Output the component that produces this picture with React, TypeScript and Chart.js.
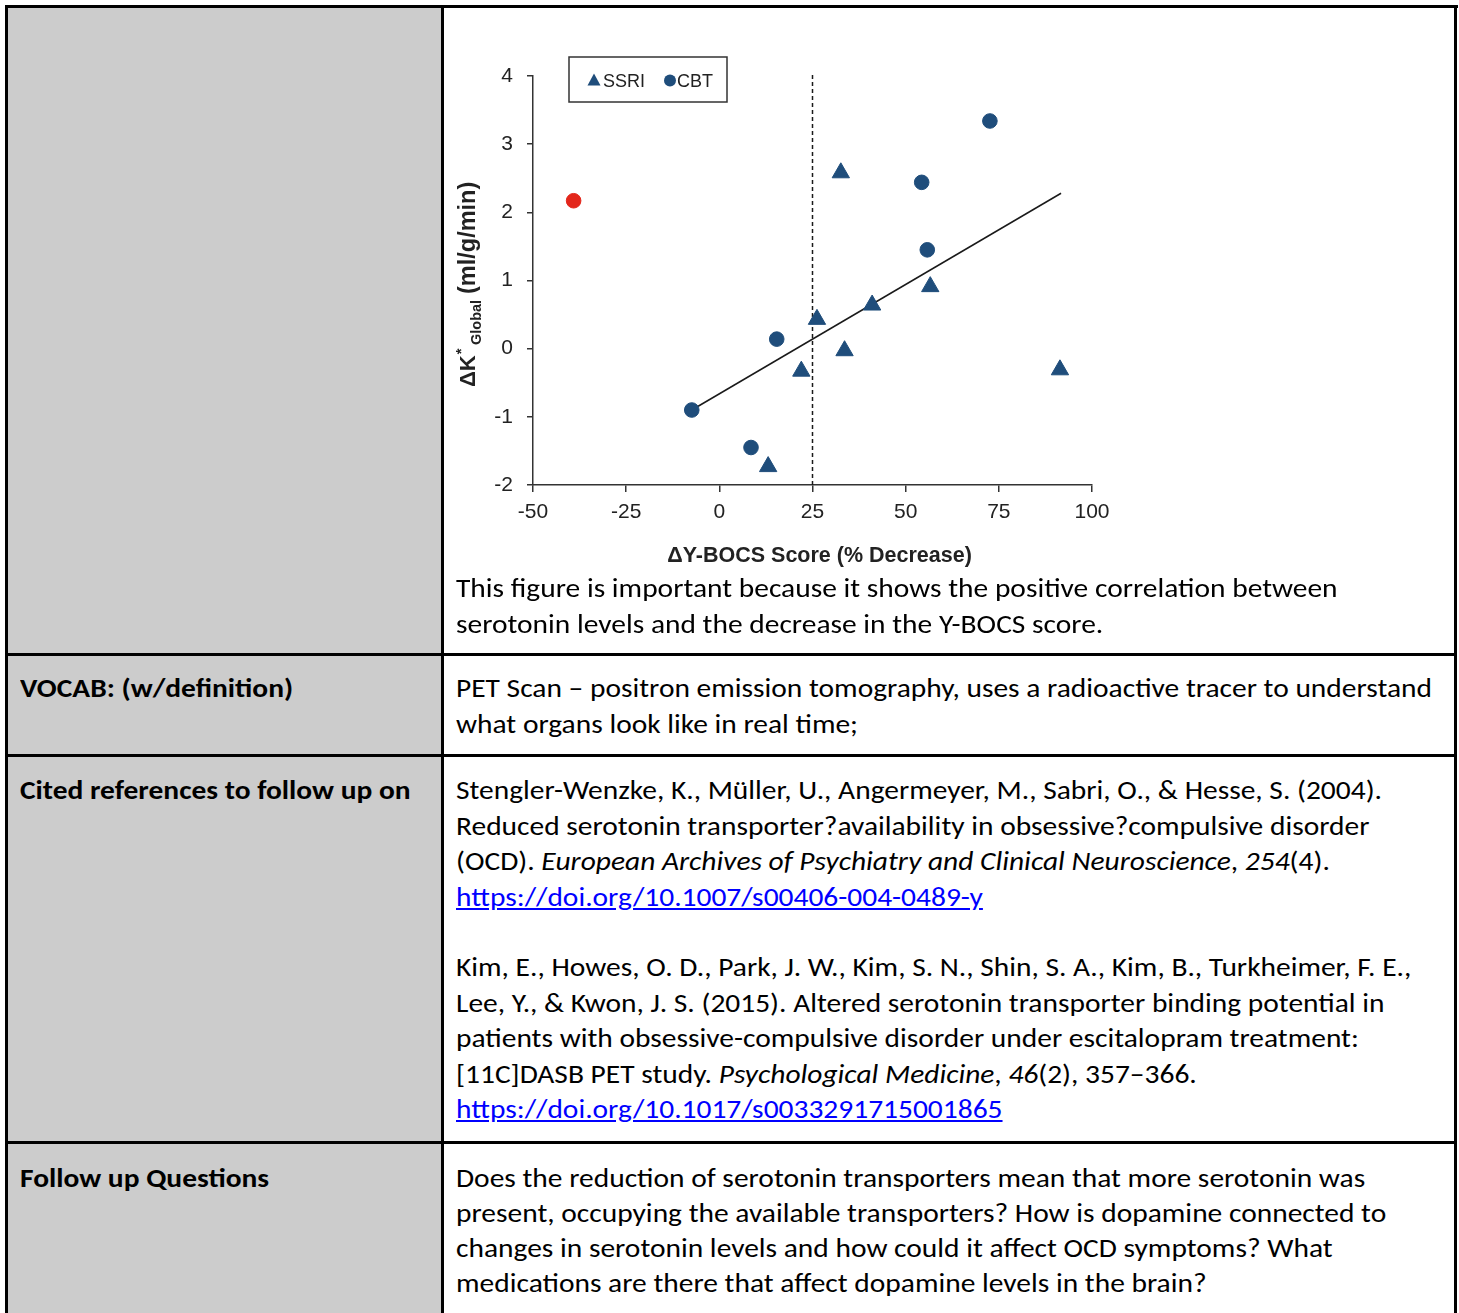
import React, { useEffect, useRef } from "react";
import { Chart, registerables } from "chart.js";

Chart.register(...registerables);

// ---------- chart data ----------
const ssriX = [32.6, 26.2, 33.6, 41.0, 56.6, 22.0, 13.1, 91.4];
const ssriY = [2.58, 0.43, -0.03, 0.64, 0.91, -0.33, -1.73, -0.31];
const cbtX = [-7.4, 8.5, 15.4, 54.3, 55.8, 72.6];
const cbtY = [-0.9, -1.45, 0.14, 2.44, 1.45, 3.34];
const outlierX = [-39.1];
const outlierY = [2.17];
const fitX = [-7.4, 91.7];
const fitY = [-0.9, 2.28];
const cutoffX = [25, 25];
const cutoffY = [-2, 4.06];
const xTicks = [-50, -25, 0, 25, 50, 75, 100];
const yTicks = [-2, -1, 0, 1, 2, 3, 4];
const seriesLabels = ["SSRI", "CBT"];
const xTitle = "ΔY-BOCS Score (% Decrease)";
const yTitleMain = "ΔK";
const yTitleSup = "*";
const yTitleSub = "Global";
const yTitleUnit = "(ml/g/min)";

// ---------- table text ----------
const chartCaption = [
  "This figure is important because it shows the positive correlation between",
  "serotonin levels and the decrease in the Y-BOCS score.",
];
const vocabLines = [
  "PET Scan – positron emission tomography, uses a radioactive tracer to understand",
  "what organs look like in real time;",
];
const followLines = [
  "Does the reduction of serotonin transporters mean that more serotonin was",
  "present, occupying the available transporters? How is dopamine connected to",
  "changes in serotonin levels and how could it affect OCD symptoms? What",
  "medications are there that affect dopamine levels in the brain?",
];
const rowLabels = ["VOCAB: (w/definition)", "Cited references to follow up on", "Follow up Questions"];

const BLUE = "#1f4d7b";
const RED = "#e3261b";
const INK = "#222222";
const AXIS_FONT = "'Liberation Sans', Arial, sans-serif";

const toPts = (xs: number[], ys: number[]) => xs.map((x, i) => ({ x, y: ys[i] }));

function ScatterChart() {
  const ref = useRef<HTMLCanvasElement | null>(null);
  useEffect(() => {
    if (!ref.current) return;
    const annot = {
      id: "annot",
      afterDraw(chart: any) {
        const ctx = chart.ctx as CanvasRenderingContext2D;
        const ca = chart.chartArea;
        ctx.save();
        // x title
        ctx.fillStyle = INK;
        ctx.font = `bold 21.5px ${AXIS_FONT}`;
        ctx.textAlign = "center";
        ctx.textBaseline = "alphabetic";
        ctx.fillText(xTitle, (ca.left + ca.right) / 2 + 7, 554);
        // y title (rotated)
        ctx.save();
        ctx.translate(31, 379);
        ctx.rotate(-Math.PI / 2);
        ctx.textAlign = "left";
        ctx.font = `bold 22px ${AXIS_FONT}`;
        ctx.fillText(yTitleMain, 0, 0);
        const w1 = ctx.measureText(yTitleMain).width;
        ctx.font = `bold 15px ${AXIS_FONT}`;
        ctx.fillText(yTitleSup, w1 + 1, -9);
        ctx.font = `bold 14.5px ${AXIS_FONT}`;
        ctx.fillText(yTitleSub, 42, 6);
        ctx.font = `bold 23.5px ${AXIS_FONT}`;
        ctx.fillText(yTitleUnit, 93, 0);
        ctx.restore();
        // legend box
        const bx = 125, by = 49, bw = 158, bh = 45;
        ctx.strokeStyle = "#333";
        ctx.lineWidth = 1.5;
        ctx.strokeRect(bx, by, bw, bh);
        const cy = by + bh / 2;
        ctx.fillStyle = BLUE;
        ctx.beginPath();
        ctx.moveTo(150, cy - 6);
        ctx.lineTo(156.5, cy + 6);
        ctx.lineTo(143.5, cy + 6);
        ctx.closePath();
        ctx.fill();
        ctx.beginPath();
        ctx.arc(226, cy + 1, 6, 0, Math.PI * 2);
        ctx.fill();
        ctx.fillStyle = INK;
        ctx.font = `18px ${AXIS_FONT}`;
        ctx.textAlign = "left";
        ctx.textBaseline = "middle";
        ctx.fillText(seriesLabels[0], 159, cy + 2.5);
        ctx.fillText(seriesLabels[1], 233, cy + 2.5);
        ctx.restore();
      },
    };
    const axisCommon = {
      type: "linear" as const,
      border: { display: true, color: "#333", width: 1.5 },
      grid: { display: true, drawOnChartArea: false, drawTicks: true, tickLength: 7, color: "#333", lineWidth: 1.5 },
    };
    const chart = new Chart(ref.current, {
      type: "scatter",
      data: {
        datasets: [
          {
            label: seriesLabels[0],
            data: toPts(ssriX, ssriY),
            pointStyle: "triangle",
            pointRadius: 10,
            backgroundColor: BLUE,
            borderColor: BLUE,
            borderWidth: 1,
          },
          {
            label: seriesLabels[1],
            data: toPts(cbtX, cbtY),
            pointStyle: "circle",
            pointRadius: 7.3,
            backgroundColor: BLUE,
            borderColor: BLUE,
            borderWidth: 1,
          },
          {
            label: "outlier",
            data: toPts(outlierX, outlierY),
            pointStyle: "circle",
            pointRadius: 7.3,
            backgroundColor: RED,
            borderColor: RED,
            borderWidth: 1,
          },
          {
            type: "line",
            label: "fit",
            data: toPts(fitX, fitY),
            borderColor: "#1a1a1a",
            borderWidth: 1.5,
            pointRadius: 0,
            showLine: true,
            fill: false,
            order: 5,
          } as any,
          {
            type: "line",
            label: "cutoff",
            data: toPts(cutoffX, cutoffY),
            borderColor: "#1a1a1a",
            borderWidth: 1.5,
            borderDash: [4, 3],
            pointRadius: 0,
            showLine: true,
            fill: false,
            clip: false,
            order: 6,
          } as any,
        ],
      },
      options: {
        animation: false,
        responsive: false,
        maintainAspectRatio: false,
        layout: { padding: { top: 68, right: 52, left: 0, bottom: 0 } },
        plugins: { legend: { display: false }, tooltip: { enabled: false }, title: { display: false } },
        scales: {
          x: {
            ...axisCommon,
            min: -50,
            max: 100,
            afterBuildTicks: (s: any) => {
              s.ticks = xTicks.map((v) => ({ value: v }));
            },
            afterFit: (s: any) => {
              s.height = 93;
            },
            ticks: { color: INK, font: { family: AXIS_FONT, size: 21 }, padding: 8 },
          },
          y: {
            ...axisCommon,
            min: -2,
            max: 4,
            grid: { ...axisCommon.grid, tickLength: 6 },
            afterBuildTicks: (s: any) => {
              s.ticks = yTicks.map((v) => ({ value: v }));
            },
            afterFit: (s: any) => {
              s.width = 89;
            },
            ticks: { color: INK, font: { family: AXIS_FONT, size: 21 }, padding: 14 },
          },
        },
      },
      plugins: [annot],
    });
    return () => chart.destroy();
  }, []);
  return (
    <canvas
      ref={ref}
      width={700}
      height={570}
      style={{ position: "absolute", left: 444, top: 8, width: 700, height: 570, display: "block" }}
    />
  );
}

const TEXT_FONT = "Carlito, Lato, 'Open Sans', sans-serif";
const TEXT_SIZE = 26;
const TEXT_STRETCH = 1.133;

function Line(props: { x: number; base: number; bold?: boolean; children: React.ReactNode }) {
  return (
    <div
      style={{
        position: "absolute",
        left: props.x,
        top: props.base - 27,
        height: 36,
        lineHeight: "36px",
        fontSize: TEXT_SIZE,
        fontFamily: TEXT_FONT,
        fontWeight: props.bold ? 700 : 400,
        whiteSpace: "nowrap",
        color: "#000",
        transform: `scaleX(${TEXT_STRETCH})`,
        transformOrigin: "0 50%",
      }}
    >
      {props.children}
    </div>
  );
}

const linkStyle: React.CSSProperties = { color: "#0000ff", textDecoration: "underline" };

function Rect(p: { l: number; t: number; w: number; h: number; c: string }) {
  return <div style={{ position: "absolute", left: p.l, top: p.t, width: p.w, height: p.h, background: p.c }} />;
}

export default function App() {
  const RX = 456;
  const LX = 20;
  return (
    <div
      style={{
        position: "absolute",
        left: 0,
        top: 0,
        width: 1459,
        height: 1313,
        overflow: "hidden",
        background: "#fff",
      }}
    >
      {/* grey label column */}
      <Rect l={8} t={8} w={433} h={1305} c="#cccccc" />
      {/* borders */}
      <Rect l={5} t={5} w={1453} h={3} c="#000" />
      <Rect l={5} t={5} w={3} h={1308} c="#000" />
      <Rect l={441} t={5} w={3} h={1308} c="#000" />
      <Rect l={1454} t={5} w={3} h={1308} c="#000" />
      <Rect l={5} t={653} w={1452} h={3} c="#000" />
      <Rect l={5} t={754} w={1452} h={3} c="#000" />
      <Rect l={5} t={1141} w={1452} h={3} c="#000" />

      <ScatterChart />

      {/* chart caption */}
      <Line x={RX} base={597}>{chartCaption[0]}</Line>
      <Line x={RX} base={633}>{chartCaption[1]}</Line>

      {/* vocab row */}
      <Line x={LX} base={697} bold>{rowLabels[0]}</Line>
      <Line x={RX} base={697}>{vocabLines[0]}</Line>
      <Line x={RX} base={733}>{vocabLines[1]}</Line>

      {/* cited references row */}
      <Line x={LX} base={799} bold>{rowLabels[1]}</Line>
      <Line x={RX} base={799}>Stengler-Wenzke, K., Müller, U., Angermeyer, M., Sabri, O., &amp; Hesse, S. (2004).</Line>
      <Line x={RX} base={835}>Reduced serotonin transporter?availability in obsessive?compulsive disorder</Line>
      <Line x={RX} base={870}>
        (OCD). <i>European Archives of Psychiatry and Clinical Neuroscience</i>, <i>254</i>(4).
      </Line>
      <Line x={RX} base={906}>
        <span style={linkStyle}>https://doi.org/10.1007/s00406-004-0489-y</span>
      </Line>
      <Line x={RX} base={976}>Kim, E., Howes, O. D., Park, J. W., Kim, S. N., Shin, S. A., Kim, B., Turkheimer, F. E.,</Line>
      <Line x={RX} base={1012}>Lee, Y., &amp; Kwon, J. S. (2015). Altered serotonin transporter binding potential in</Line>
      <Line x={RX} base={1047}>patients with obsessive-compulsive disorder under escitalopram treatment:</Line>
      <Line x={RX} base={1083}>
        [11C]DASB PET study. <i>Psychological Medicine</i>, <i>46</i>(2), 357–366.
      </Line>
      <Line x={RX} base={1118}>
        <span style={linkStyle}>https://doi.org/10.1017/s0033291715001865</span>
      </Line>

      {/* follow up row */}
      <Line x={LX} base={1187} bold>{rowLabels[2]}</Line>
      {followLines.map((t, i) => (
        <Line key={i} x={RX} base={1187 + i * 35}>{t}</Line>
      ))}
    </div>
  );
}
